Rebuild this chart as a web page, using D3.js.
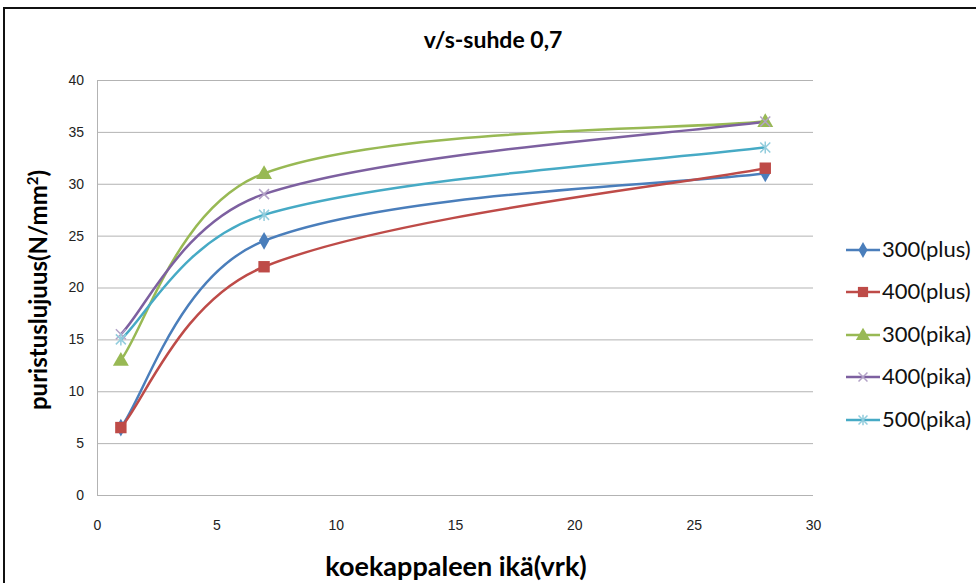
<!DOCTYPE html>
<html>
<head>
<meta charset="utf-8">
<style>
    body { margin: 0; background: #fff; }
    svg { display: block; font-family: Lato, 'Open Sans', sans-serif; }
    .grid line { stroke: #b3b3b3; stroke-width: 1px; }
    .grid .domain { display: none; }
    .axis .domain { display: none; }
    .axis .tick line { display: none; }
    .axis .tick text { font-size: 14px; fill: #222; }
</style>
</head>
<body>
<svg width="976" height="583"></svg>
<script src="https://cdn.jsdelivr.net/npm/d3@7"></script>
<script>
    // data
    let days = [1, 7, 28];
    let seriesNames = ["300(plus)", "400(plus)", "300(pika)", "400(pika)", "500(pika)"];
    let s300plus = [6.5, 24.5, 31];
    let s400plus = [6.5, 22, 31.5];
    let s300pika = [13, 31, 36];
    let s400pika = [15.5, 29, 36];
    let s500pika = [15, 27, 33.5];
    let xTicks = [0, 5, 10, 15, 20, 25, 30];
    let yTicks = [0, 5, 10, 15, 20, 25, 30, 35, 40];

    let colors = ["#4a7ebb", "#be4b48", "#98b954", "#7d60a0", "#46aac5"];
    let markerColors = ["#4a7ebb", "#be4b48", "#98b954", "#b3a2c7", "#93cddd"];
    let markers = ["diamond", "square", "triangle", "x", "star"];

    let allSeries = [s300plus, s400plus, s300pika, s400pika, s500pika].map(function (vals, i) {
        return {
            name: seriesNames[i],
            points: vals.map(function (v, j) { return { x: days[j], y: v } })
        }
    })

    // Excel-like smoothing: bezier with 1/6 tangents, scaled by neighbouring segment lengths
    function excelCurve(context) {
        let pts = []
        return {
            areaStart() {}, areaEnd() {},
            lineStart() { pts = [] },
            point(x, y) { pts.push([+x, +y]) },
            lineEnd() {
                let n = pts.length
                if (!n) return
                context.moveTo(pts[0][0], pts[0][1])
                if (n == 2) { context.lineTo(pts[1][0], pts[1][1]); return }
                let dist = (a, b) => Math.hypot(b[0] - a[0], b[1] - a[1])
                let f = 1 / 6
                for (let i = 0; i < n - 1; i++) {
                    let p0 = pts[i], p1 = pts[i + 1]
                    let c1, c2
                    if (i == 0) {
                        c1 = [p0[0] + (p1[0] - p0[0]) * f, p0[1] + (p1[1] - p0[1]) * f]
                    } else {
                        let pm = pts[i - 1]
                        let dl = dist(pm, p0), dr = dist(p0, p1)
                        let k = f * Math.sqrt(2 * dr / (dl + dr))
                        c1 = [p0[0] + (p1[0] - pm[0]) * k, p0[1] + (p1[1] - pm[1]) * k]
                    }
                    if (i == n - 2) {
                        c2 = [p1[0] - (p1[0] - p0[0]) * f, p1[1] - (p1[1] - p0[1]) * f]
                    } else {
                        let p2 = pts[i + 2]
                        let dl = dist(p0, p1), dr = dist(p1, p2)
                        let k = f * Math.sqrt(2 * dl / (dl + dr))
                        c2 = [p1[0] - (p2[0] - p0[0]) * k, p1[1] - (p2[1] - p0[1]) * k]
                    }
                    context.bezierCurveTo(c1[0], c1[1], c2[0], c2[1], p1[0], p1[1])
                }
            }
        }
    }

    let svg = d3.select("svg")

    // outer chart frame (right and bottom edges fall outside the window)
    svg.append("rect")
        .attr("x", 4).attr("y", 8)
        .attr("width", 1000).attr("height", 600)
        .style("fill", "none")
        .style("stroke", "#111")
        .style("stroke-width", "2px")

    let x = d3.scaleLinear().domain([0, 30]).range([97, 813])
    let y = d3.scaleLinear().domain([0, 40]).range([495, 80])

    // horizontal gridlines
    svg.append("g")
        .attr("class", "grid")
        .attr("transform", "translate(97,0)")
        .call(d3.axisLeft(y).tickValues(yTicks).tickSize(-(813 - 97)).tickFormat(""))

    // left edge of plot area
    svg.append("line")
        .attr("x1", 97.5).attr("x2", 97.5)
        .attr("y1", y(40)).attr("y2", y(0))
        .style("stroke", "#b3b3b3")

    svg.append("g")
        .attr("class", "axis")
        .attr("transform", "translate(90,0)")
        .call(d3.axisLeft(y).tickValues(yTicks).tickSize(0).tickPadding(6))

    svg.append("g")
        .attr("class", "axis")
        .attr("transform", "translate(0,515)")
        .call(d3.axisBottom(x).tickValues(xTicks).tickSize(0).tickPadding(5))

    let line = d3.line()
        .x(d => x(d.x))
        .y(d => y(d.y))
        .curve(excelCurve)

    svg.append("g")
        .selectAll("path")
        .data(allSeries)
        .join("path")
        .attr("d", d => line(d.points))
        .style("fill", "none")
        .style("stroke", (d, i) => colors[i])
        .style("stroke-width", "2.5px")

    function drawMarker(g, type, i, size) {
        let c = markerColors[i]
        if (type == "diamond") {
            g.append("path").attr("d", d3.symbol(d3.symbolDiamond, size * 0.9)())
                .style("fill", c)
        } else if (type == "square") {
            g.append("path").attr("d", d3.symbol(d3.symbolSquare, size * 1.3)())
                .style("fill", c)
        } else if (type == "triangle") {
            g.append("path").attr("d", d3.symbol(d3.symbolTriangle, size * 1.1)())
                .attr("transform", "translate(0,1)")
                .style("fill", c)
        } else if (type == "x") {
            let r = Math.sqrt(size) / 2
            g.append("path").attr("d", `M${-r},${-r}L${r},${r}M${-r},${r}L${r},${-r}`)
                .style("stroke", c).style("stroke-width", "1.5px")
        } else {
            let r = Math.sqrt(size) / 2
            g.append("path").attr("d", `M${-r},${-r}L${r},${r}M${-r},${r}L${r},${-r}M0,${-r * 1.2}L0,${r * 1.2}`)
                .style("stroke", c).style("stroke-width", "1.5px")
        }
    }

    allSeries.forEach(function (s, i) {
        s.points.forEach(function (p) {
            let g = svg.append("g").attr("transform", `translate(${x(p.x)},${y(p.y)})`)
            drawMarker(g, markers[i], i, 100)
        })
    })

    // legend
    let legendY = [250, 292, 335, 377, 420]
    seriesNames.forEach(function (name, i) {
        let g = svg.append("g").attr("transform", `translate(0,${legendY[i]})`)
        g.append("line")
            .attr("x1", 846).attr("x2", 880)
            .style("stroke", colors[i]).style("stroke-width", "2.5px")
        let m = g.append("g").attr("transform", "translate(863,0)")
        drawMarker(m, markers[i], i, 80)
        g.append("text")
            .attr("x", 882).attr("y", 7)
            .style("font-size", "22px")
            .style("fill", "#111")
            .text(name)
    })

    // titles
    svg.append("text")
        .attr("x", 493).attr("y", 48)
        .attr("text-anchor", "middle")
        .style("font-size", "23px")
        .style("font-weight", "bold")
        .text("v/s-suhde 0,7")

    svg.append("text")
        .attr("x", 456).attr("y", 576)
        .attr("text-anchor", "middle")
        .style("font-size", "27px")
        .style("font-weight", "bold")
        .text("koekappaleen ikä(vrk)")

    let ylab = svg.append("text")
        .attr("transform", "translate(47,290) rotate(-90)")
        .attr("text-anchor", "middle")
        .style("font-size", "24px")
        .style("font-weight", "bold")
    ylab.append("tspan").text("puristuslujuus(N/mm")
    ylab.append("tspan").attr("dy", -9).style("font-size", "15px").text("2")
    ylab.append("tspan").attr("dy", 9).text(")")
</script>
</body>
</html>
